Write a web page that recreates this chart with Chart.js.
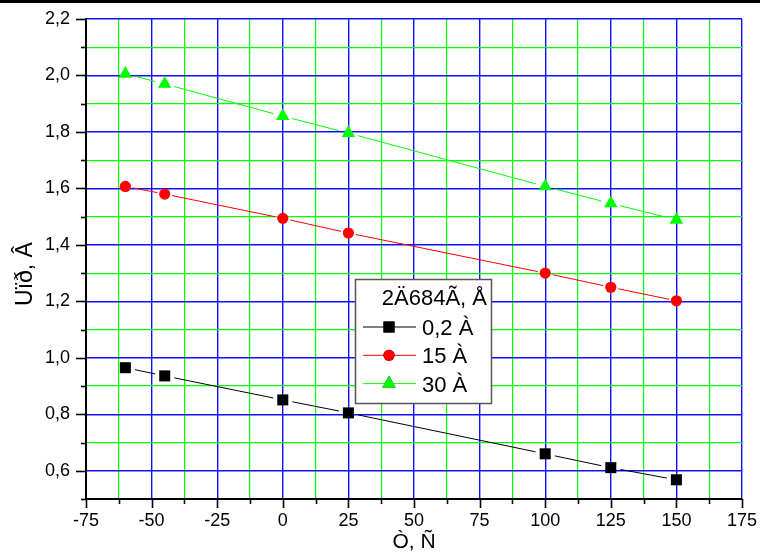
<!DOCTYPE html>
<html>
<head>
<meta charset="utf-8">
<script src="https://cdn.jsdelivr.net/npm/chart.js@4.4.1/dist/chart.umd.min.js"></script>
<style>
  html, body { margin: 0; padding: 0; background: #fff; }
  #wrap { width: 760px; height: 553px; }
</style>
</head>
<body>
<div id="wrap"><canvas id="chart" width="760" height="553"></canvas></div>
<script>
// --- DATA ---
const temperatures = [-60, -45, 0, 25, 100, 125, 150];
const seriesNames = ["0,2 À", "15 À", "30 À"];
const u02 = [0.965, 0.936, 0.851, 0.805, 0.660, 0.611, 0.568];
const u15 = [1.607, 1.580, 1.494, 1.442, 1.300, 1.250, 1.202];
const u30 = [2.006, 1.970, 1.856, 1.796, 1.607, 1.547, 1.489];

const xRange = [-75, 175];
const xStep = 12.5;     // minor step, labels every 25
const yRange = [0.5, 2.2];
const yStep = 0.1;      // minor step, labels every 0.2

const legendTitle = "2Ä684Ã, Å";
const xTitle = "Ò, Ñ";
const yTitle = "Uïð, Â";

// --- STYLE ---
const FONT = "'Liberation Sans', Arial, sans-serif";
const BLUE = "#1010ff";
const GREEN = "#00ff00";
const seriesColors = ["#000000", "#ff0000", "#00ff00"];
const seriesMarkers = ["rect", "circle", "triangle"];
const markerRadius = [7.8, 5.6, 7.8];

function toPoints(ys) {
  return temperatures.map((t, i) => ({ x: t, y: ys[i] }));
}

const isMajorX = (v) => Math.abs(v % 25) < 1e-6;
const isMajorY = (v) => Math.round(v * 10) % 2 === 0;

// white page with the black rule along the top
const topRule = {
  id: "topRule",
  beforeDraw(chart) {
    const ctx = chart.ctx;
    ctx.save();
    ctx.fillStyle = "#fff";
    ctx.fillRect(0, 0, chart.width, chart.height);
    ctx.fillStyle = "#000";
    ctx.fillRect(0, 0, chart.width, 3);
    ctx.restore();
  },
};

// connecting lines with a small gap around each marker
const gappedLines = {
  id: "gappedLines",
  beforeDatasetsDraw(chart) {
    const ctx = chart.ctx;
    const area = chart.chartArea;
    ctx.save();
    ctx.beginPath();
    ctx.rect(area.left, area.top, area.right - area.left, area.bottom - area.top);
    ctx.clip();
    chart.data.datasets.forEach((ds, di) => {
      const pts = chart.getDatasetMeta(di).data;
      const gap = markerRadius[di] + 2;
      ctx.strokeStyle = ds.borderColor;
      ctx.lineWidth = 1;
      for (let i = 0; i < pts.length - 1; i++) {
        const a = pts[i], b = pts[i + 1];
        const dx = b.x - a.x, dy = b.y - a.y;
        const len = Math.hypot(dx, dy);
        if (len <= gap * 2) continue;
        const ux = dx / len, uy = dy / len;
        ctx.beginPath();
        ctx.moveTo(a.x + ux * gap, a.y + uy * gap);
        ctx.lineTo(b.x - ux * gap, b.y - uy * gap);
        ctx.stroke();
      }
    });
    ctx.restore();
  },
};

// outward tick marks (long on labelled values) and the vertical axis title
const tickMarks = {
  id: "tickMarks",
  afterDraw(chart) {
    const ctx = chart.ctx;
    const xs = chart.scales.x, ys = chart.scales.y;
    ctx.save();
    ctx.strokeStyle = "#000";
    ctx.lineWidth = 1.6;
    xs.ticks.forEach((t) => {
      const px = Math.round(xs.getPixelForValue(t.value)) + 0.5;
      const len = isMajorX(t.value) ? 9 : 5;
      ctx.beginPath();
      ctx.moveTo(px, xs.top);
      ctx.lineTo(px, xs.top + len);
      ctx.stroke();
    });
    ys.ticks.forEach((t) => {
      const py = Math.round(ys.getPixelForValue(t.value)) + 0.5;
      const len = isMajorY(t.value) ? 10 : 5;
      ctx.beginPath();
      ctx.moveTo(ys.right, py);
      ctx.lineTo(ys.right - len, py);
      ctx.stroke();
    });

    ctx.fillStyle = "#000";
    ctx.font = "23px " + FONT;
    ctx.textAlign = "center";
    ctx.textBaseline = "middle";
    ctx.translate(26, 274);
    ctx.rotate(-Math.PI / 2);
    ctx.fillText(yTitle, 0, 0);
    ctx.restore();
  },
};

// boxed legend inside the plot
const boxLegend = {
  id: "boxLegend",
  afterDatasetsDraw(chart) {
    const ctx = chart.ctx;
    const box = { x: 355.5, y: 279.5, w: 136, h: 124 };
    ctx.save();
    ctx.fillStyle = "#fff";
    ctx.fillRect(box.x, box.y, box.w, box.h);
    ctx.strokeStyle = "#555";
    ctx.lineWidth = 1.5;
    ctx.strokeRect(box.x, box.y, box.w, box.h);

    ctx.fillStyle = "#000";
    ctx.font = "22px " + FONT;
    ctx.textBaseline = "alphabetic";
    ctx.textAlign = "right";
    ctx.fillText(legendTitle, 487, 305);

    ctx.textAlign = "left";
    chart.data.datasets.forEach((ds, i) => {
      const cy = 327 + i * 28.3;
      ctx.strokeStyle = ds.borderColor;
      ctx.lineWidth = 1;
      ctx.beginPath();
      ctx.moveTo(363, cy);
      ctx.lineTo(416, cy);
      ctx.stroke();
      Chart.helpers.drawPoint(ctx, {
        pointStyle: ds.pointStyle,
        radius: markerRadius[i],
        rotation: 0,
        borderWidth: 0,
      }, 389, cy);
      ctx.fillStyle = ds.backgroundColor;
      ctx.fill();
      ctx.fillStyle = "#000";
      ctx.fillText(ds.label, 422, cy + 8);
    });
    ctx.restore();
  },
};

const datasets = [u02, u15, u30].map((ys, i) => ({
  label: seriesNames[i],
  data: toPoints(ys),
  showLine: false,
  borderColor: seriesColors[i],
  backgroundColor: seriesColors[i],
  pointStyle: seriesMarkers[i],
  pointRadius: markerRadius[i],
  pointBorderWidth: 0,
  pointBackgroundColor: seriesColors[i],
}));

new Chart(document.getElementById("chart"), {
  type: "line",
  data: { datasets },
  options: {
    responsive: false,
    animation: false,
    devicePixelRatio: 1,
    layout: { padding: { top: 19, right: 18, left: 0, bottom: 0 } },
    plugins: {
      legend: { display: false },
      tooltip: { enabled: false },
    },
    scales: {
      x: {
        type: "linear",
        min: xRange[0],
        max: xRange[1],
        afterFit: (s) => {
          s.height = 54;
          s.paddingLeft = 0;
          s.paddingRight = 0;
        },
        border: { display: true, color: "#000", width: 2 },
        grid: {
          drawTicks: false,
          color: (c) => c.tick.value === xRange[0] ? "rgba(0,0,0,0)" : (isMajorX(c.tick.value) ? BLUE : GREEN),
          lineWidth: (c) => isMajorX(c.tick.value) ? 1.4 : 1.2,
        },
        ticks: {
          stepSize: xStep,
          autoSkip: false,
          maxRotation: 0,
          padding: 11,
          color: "#000",
          font: { family: FONT, size: 18 },
          callback: (v) => isMajorX(v) ? String(v) : "",
        },
        title: {
          display: true,
          text: xTitle,
          color: "#000",
          font: { family: FONT, size: 21, lineHeight: 1 },
          padding: 0,
        },
      },
      y: {
        type: "linear",
        min: yRange[0],
        max: yRange[1],
        afterFit: (s) => {
          s.width = 86;
          s.paddingTop = 0;
          s.paddingBottom = 0;
        },
        border: { display: true, color: "#000", width: 2 },
        grid: {
          drawTicks: false,
          color: (c) => Math.abs(c.tick.value - yRange[0]) < 1e-6 ? "rgba(0,0,0,0)" : (isMajorY(c.tick.value) ? BLUE : GREEN),
          lineWidth: (c) => isMajorY(c.tick.value) ? 1.4 : 1.2,
        },
        ticks: {
          stepSize: yStep,
          autoSkip: false,
          padding: 16,
          color: "#000",
          font: { family: FONT, size: 18 },
          callback: (v) => isMajorY(v) ? v.toFixed(1).replace(".", ",") : "",
        },
      },
    },
  },
  plugins: [topRule, gappedLines, tickMarks, boxLegend],
});
</script>
</body>
</html>
